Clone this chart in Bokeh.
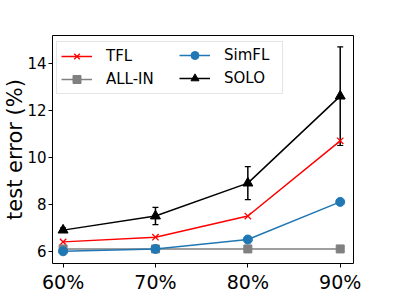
from bokeh.plotting import figure
from bokeh.models import (ColumnDataSource, Whisker, TeeHead, Legend, LegendItem,
                          FixedTicker, Range1d)
from bokeh.embed import file_html
from bokeh.resources import INLINE

# ---- data ----
x_vals = [60, 70, 80, 90]
x_labels = ["60%", "70%", "80%", "90%"]
y_ticks = [6, 8, 10, 12, 14]

tfl = [6.4, 6.6, 7.5, 10.7]
allin = [6.1, 6.1, 6.1, 6.1]
simfl = [6.0, 6.1, 6.5, 8.1]
simfl_err = [0.03, 0.03, 0.05, 0.05]
solo = [6.9, 7.5, 8.9, 12.6]
solo_err = [0.1, 0.37, 0.7, 2.1]

FONT = "DejaVu Sans"

p = figure(frame_width=301, frame_height=228,
           x_range=Range1d(58.854, 91.438), y_range=Range1d(5.48, 15.18),
           output_backend="svg", toolbar_location=None,
           min_border_left=40, min_border_right=38, min_border_top=35, min_border_bottom=33)

p.xgrid.visible = False
p.ygrid.visible = False
p.outline_line_color = "black"
p.outline_line_width = 1
p.outline_line_alpha = 1

p.xaxis.ticker = FixedTicker(ticks=x_vals)
p.xaxis.major_label_overrides = {v: s for v, s in zip(x_vals, x_labels)}
p.yaxis.ticker = FixedTicker(ticks=y_ticks)
for ax in (p.xaxis, p.yaxis):
    ax.minor_tick_line_color = None
    ax.major_tick_in = 0
    ax.major_tick_out = 4
    ax.major_tick_line_color = "black"
    ax.axis_line_color = None
    ax.major_label_text_color = "black"
    ax.major_label_text_font = FONT
p.xaxis.major_label_text_font_size = "19px"
p.xaxis.major_label_standoff = 3
p.yaxis.major_label_text_font_size = "15px"
p.yaxis.major_label_standoff = 2
p.yaxis.axis_label = "test error (%)"
p.yaxis.axis_label_text_font = FONT
p.yaxis.axis_label_text_font_size = "21px"
p.yaxis.axis_label_text_font_style = "normal"
p.yaxis.axis_label_text_color = "black"
p.yaxis.axis_label_standoff = -3

# ---- series ----
l1 = p.line(x_vals, tfl, line_color="#ff0000", line_width=1.5)
m1 = p.scatter(x_vals, tfl, marker="x", size=9, line_color="#ff0000", line_width=1.3)

l2 = p.line(x_vals, allin, line_color="#808080", line_width=1.5)
m2 = p.scatter(x_vals, allin, marker="square", size=8, fill_color="#808080", line_color="#808080")

l3 = p.line(x_vals, simfl, line_color="#1f77b4", line_width=1.5)
m3 = p.scatter(x_vals, simfl, marker="circle", size=9, fill_color="#1f77b4", line_color="#1f77b4")

l4 = p.line(x_vals, solo, line_color="black", line_width=1.5)
m4 = p.scatter(x_vals, solo, marker="triangle", size=10, fill_color="black", line_color="black")

src3 = ColumnDataSource(dict(x=x_vals,
                             lo=[v - e for v, e in zip(simfl, simfl_err)],
                             hi=[v + e for v, e in zip(simfl, simfl_err)]))
src4 = ColumnDataSource(dict(x=x_vals,
                             lo=[v - e for v, e in zip(solo, solo_err)],
                             hi=[v + e for v, e in zip(solo, solo_err)]))
for src, col in ((src3, "#1f77b4"), (src4, "black")):
    w = Whisker(source=src, base="x", lower="lo", upper="hi", line_color=col, line_width=1.5,
                upper_head=TeeHead(size=6, line_color=col, line_width=1.2),
                lower_head=TeeHead(size=6, line_color=col, line_width=1.2))
    p.add_layout(w)

# ---- legends (two columns) ----
def make_legend(items, loc, width_label, framed):
    lg = Legend(items=items, location=loc, glyph_width=31, glyph_height=20,
                label_height=20, label_standoff=14, spacing=3, padding=4,
                label_width=width_label, label_text_font=FONT,
                label_text_font_size="15px", label_text_color="black",
                background_fill_alpha=1 if framed else 0,
                border_line_color="#cccccc" if framed else None,
                border_line_width=1, margin=0)
    return lg

leg1 = make_legend([LegendItem(label="TFL", renderers=[l1, m1]),
                    LegendItem(label="ALL-IN", renderers=[l2, m2])],
                   (4, 169), 172, True)
leg2 = make_legend([LegendItem(label="SimFL", renderers=[l3, m3]),
                    LegendItem(label="SOLO", renderers=[l4, m4])],
                   (127, 175), 40, False)
p.add_layout(leg1, "center")
p.add_layout(leg2, "center")

open("out.html", "w").write(file_html(p, INLINE))
